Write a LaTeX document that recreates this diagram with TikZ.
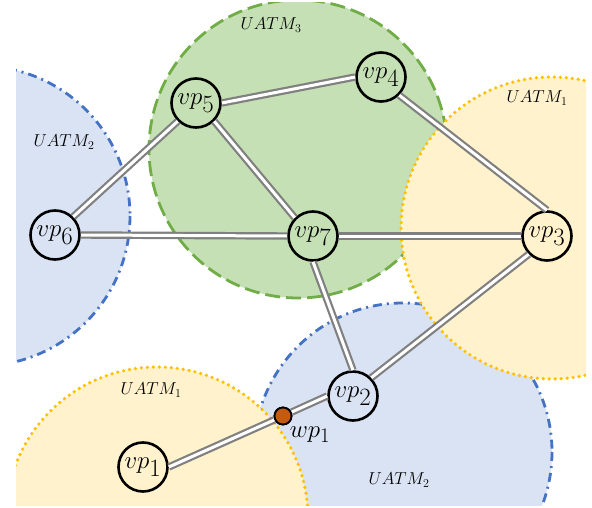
\documentclass[tikz,border=0pt]{standalone}
\usetikzlibrary{positioning}
\definecolor{zonegreen}{HTML}{C5E0B4}
\definecolor{rimgreen}{HTML}{70AD47}
\definecolor{zoneblue}{HTML}{DAE3F3}
\definecolor{rimblue}{HTML}{4472C4}
\definecolor{zoneyellow}{HTML}{FFF2CC}
\definecolor{rimyellow}{HTML}{FFC000}
\definecolor{wpfill}{HTML}{C55A11}
\definecolor{linkgray}{HTML}{808080}
\begin{document}
\begin{tikzpicture}[x=1pt,y=-1pt,
	vp/.style={circle, draw, line width=2.6pt, minimum size=49pt, inner sep=0pt, font=\fontsize{36}{36}\selectfont},
	link/.style={draw=linkgray, line width=2.2pt, double=white, double distance=3pt},
	zonelabel/.style={font=\fontsize{16.5}{16.5}\selectfont},
	greenzone/.style={fill=zonegreen, draw=rimgreen, line width=2.8pt, dash pattern=on 15pt off 6pt},
	bluezone/.style={fill=zoneblue, draw=rimblue, line width=2.8pt, dash pattern=on 9pt off 5pt on 2pt off 5pt},
	yellowzone/.style={fill=zoneyellow, draw=rimyellow, line width=3.6pt, line cap=round, dash pattern=on 0pt off 6pt}]
	\useasboundingbox (0,0) rectangle (592,508);
	% coverage zones
	\begin{scope}
		\clip (16,3) rectangle (586,505);
		\path[greenzone] (298,149) circle (149);
		\path[bluezone] (-20,216) circle (150);
		\path[bluezone] (403,452) circle (149);
		\path[yellowzone] (552,228) circle (151);
		\path[yellowzone] (157,518) circle (151);
	\end{scope}
	\node[zonelabel] (z3) at (271,25) {$UATM_3$};
	\node[zonelabel] (z2a) at (64,142) {$UATM_2$};
	\node[zonelabel] (z1a) at (537,98) {$UATM_1$};
	\node[zonelabel] (z1b) at (151,390) {$UATM_1$};
	\node[zonelabel] (z2b) at (399,480) {$UATM_2$};
	% vertiports
	\node[vp] (vp5) at (196,103) {$vp_5$};
	\node[vp] (vp4) at (381,77) {$vp_4$};
	\node[vp] (vp6) at (55,235) {$vp_6$};
	\node[vp] (vp7) at (313,236) {$vp_7$};
	\node[vp] (vp3) at (547,236) {$vp_3$};
	\node[vp] (vp2) at (353,396) {$vp_2$};
	\node[vp] (vp1) at (143,467) {$vp_1$};
	\node[circle, draw, line width=1.8pt, fill=wpfill, minimum size=17pt, inner sep=0pt] (wp1) at (283,416) {};
	\node[below right=4pt and 0pt of wp1, inner sep=0pt, font=\fontsize{32}{32}\selectfont] (wplabel) {$wp_1$};
	% links
	\draw[link] (vp5.east) -- (vp4.west);
	\draw[link] (vp5.south west) -- (vp6.north east);
	\draw[link] (vp5.south east) -- (vp7.north west);
	\draw[link] (vp4.south east) -- (vp3.north);
	\draw[link] (vp6.east) -- (vp7.west);
	\draw[link] (vp7.east) -- (vp3.west);
	\draw[link] (vp7.south) -- (vp2.north);
	\draw[link] (vp3.south west) -- (vp2.north east);
	\draw[link] (vp2.west) -- (wp1);
	\draw[link] (wp1) -- (vp1.east);
	\node[circle, draw, line width=1.8pt, fill=wpfill, minimum size=17pt, inner sep=0pt] at (wp1) {};
\end{tikzpicture}
\end{document}
